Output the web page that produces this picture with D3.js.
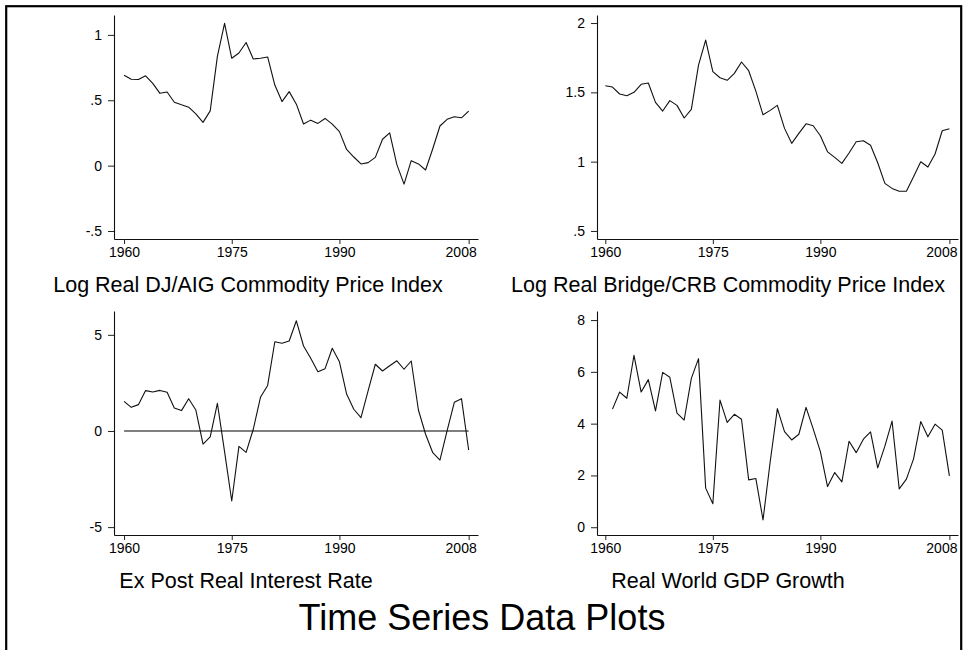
<!DOCTYPE html>
<html><head><meta charset="utf-8">
<script src="https://cdn.jsdelivr.net/npm/d3@7"></script>
<style>body{margin:0;background:#fff} svg{display:block}</style>
</head><body>
<svg id="c" width="963" height="650"></svg>
<script>
const years = [1960,1961,1962,1963,1964,1965,1966,1967,1968,1969,1970,1971,1972,1973,1974,1975,1976,1977,1978,1979,1980,1981,1982,1983,1984,1985,1986,1987,1988,1989,1990,1991,1992,1993,1994,1995,1996,1997,1998,1999,2000,2001,2002,2003,2004,2005,2006,2007,2008];
const djaig = [0.692,0.661,0.659,0.687,0.629,0.553,0.563,0.485,0.465,0.447,0.396,0.331,0.419,0.836,1.088,0.821,0.861,0.942,0.816,0.821,0.831,0.616,0.490,0.566,0.470,0.318,0.348,0.323,0.361,0.318,0.260,0.124,0.066,0.013,0.023,0.063,0.202,0.250,0.008,-0.141,0.038,0.013,-0.033,0.129,0.303,0.354,0.374,0.366,0.417];
const crb = [1.548,1.538,1.488,1.476,1.500,1.558,1.567,1.428,1.365,1.440,1.406,1.315,1.377,1.697,1.877,1.649,1.605,1.587,1.637,1.719,1.656,1.509,1.338,1.370,1.406,1.240,1.132,1.204,1.273,1.259,1.187,1.071,1.031,0.988,1.062,1.144,1.151,1.118,0.992,0.843,0.807,0.786,0.786,0.891,0.999,0.961,1.055,1.223,1.237];
const realRate = [1.54,1.23,1.37,2.10,2.03,2.11,2.01,1.20,1.06,1.68,1.09,-0.68,-0.31,1.44,-1.07,-3.64,-0.80,-1.11,0.09,1.75,2.37,4.64,4.56,4.68,5.73,4.42,3.78,3.08,3.24,4.30,3.60,1.92,1.13,0.69,2.10,3.47,3.12,3.39,3.65,3.21,3.64,1.09,-0.17,-1.13,-1.51,0.02,1.49,1.68,-0.99];
const gdpGrowth = [null,4.56,5.22,4.98,6.64,5.22,5.70,4.49,5.98,5.79,4.41,4.14,5.75,6.51,1.51,0.91,4.91,4.05,4.36,4.17,1.83,1.88,0.28,2.53,4.58,3.69,3.37,3.59,4.63,3.80,2.92,1.57,2.11,1.75,3.32,2.88,3.40,3.68,2.29,3.13,4.10,1.48,1.86,2.64,4.08,3.49,3.98,3.75,1.98];
const xTicks = [1960,1975,1990,2008];
const djaigTicks = [-0.5,0,0.5,1];
const crbTicks = [0.5,1,1.5,2];
const rateTicks = [-5,0,5];
const gdpTicks = [0,2,4,6,8];
const subtitles = ["Log Real DJ/AIG Commodity Price Index","Log Real Bridge/CRB Commodity Price Index","Ex Post Real Interest Rate","Real World GDP Growth"];
const mainTitle = "Time Series Data Plots";

const panels = [
  {vals: djaig, ticks: djaigTicks, sub: subtitles[0], l:114, r:478, t:15, b:239, xd:[1958.6,2009.3], yd:[-0.561,1.152], cx:248, zero:false},
  {vals: crb, ticks: crbTicks, sub: subtitles[1], l:597, r:958, t:15, b:239, xd:[1958.84,2009.2], yd:[0.442,2.058], cx:728, zero:false},
  {vals: realRate, ticks: rateTicks, sub: subtitles[2], l:114, r:478, t:311, b:535, xd:[1958.6,2009.3], yd:[-5.41,6.24], cx:246, zero:true},
  {vals: gdpGrowth, ticks: gdpTicks, sub: subtitles[3], l:597, r:958, t:311, b:535, xd:[1958.84,2009.2], yd:[-0.30,8.35], cx:728, zero:false}
];

const FONT = "'Liberation Sans', Arial, Helvetica, sans-serif";
const svg = d3.select("#c");
svg.append("rect").attr("x",0).attr("y",0).attr("width",963).attr("height",650).attr("fill","#fff");
svg.append("rect").attr("x",6.2).attr("y",6.2).attr("width",955).attr("height",700)
  .attr("fill","none").attr("stroke","#000").attr("stroke-width",2.2);

const fmt = d => String(d).replace("0.", ".");

panels.forEach(p => {
  const x = d3.scaleLinear().domain(p.xd).range([p.l, p.r]);
  const y = d3.scaleLinear().domain(p.yd).range([p.b, p.t]);
  const g = svg.append("g");

  const ya = g.append("g").attr("transform", `translate(${p.l},0)`)
    .call(d3.axisLeft(y).tickValues(p.ticks).tickFormat(fmt).tickSize(6).tickSizeOuter(0).tickPadding(6));
  const xa = g.append("g").attr("transform", `translate(0,${p.b})`)
    .call(d3.axisBottom(x).tickValues(xTicks).tickFormat(d3.format("d")).tickSize(5).tickSizeOuter(0).tickPadding(3));
  [ya, xa].forEach(a => {
    a.selectAll("text").attr("font-family", FONT).attr("font-size", 14).attr("fill", "#000");
    a.selectAll("line").attr("stroke", "#222");
    a.select(".domain").attr("stroke", "#111").attr("stroke-width", 1.1);
  });
  xa.selectAll(".tick text").filter(d => d === xTicks[xTicks.length-1]).attr("dx", -8);

  if (p.zero) {
    g.append("line").attr("x1", x(years[0])).attr("x2", x(years[years.length-1]))
      .attr("y1", y(0)).attr("y2", y(0)).attr("stroke", "#000").attr("stroke-width", 1.1);
  }

  const line = d3.line().defined(d => d[1] !== null).x(d => x(d[0])).y(d => y(d[1]));
  g.append("path").datum(years.map((yr, i) => [yr, p.vals[i]]))
    .attr("d", line).attr("fill", "none").attr("stroke", "#111").attr("stroke-width", 1.1)
    .attr("stroke-linejoin", "round");

  g.append("text").attr("x", p.cx).attr("y", p.b + 53).attr("text-anchor", "middle")
    .attr("font-family", FONT).attr("font-size", 21.5).attr("fill", "#000").text(p.sub);
});

svg.append("text").attr("x", 482).attr("y", 630).attr("text-anchor", "middle")
  .attr("font-family", FONT).attr("font-size", 36).attr("fill", "#000").text(mainTitle);
</script>
</body></html>
